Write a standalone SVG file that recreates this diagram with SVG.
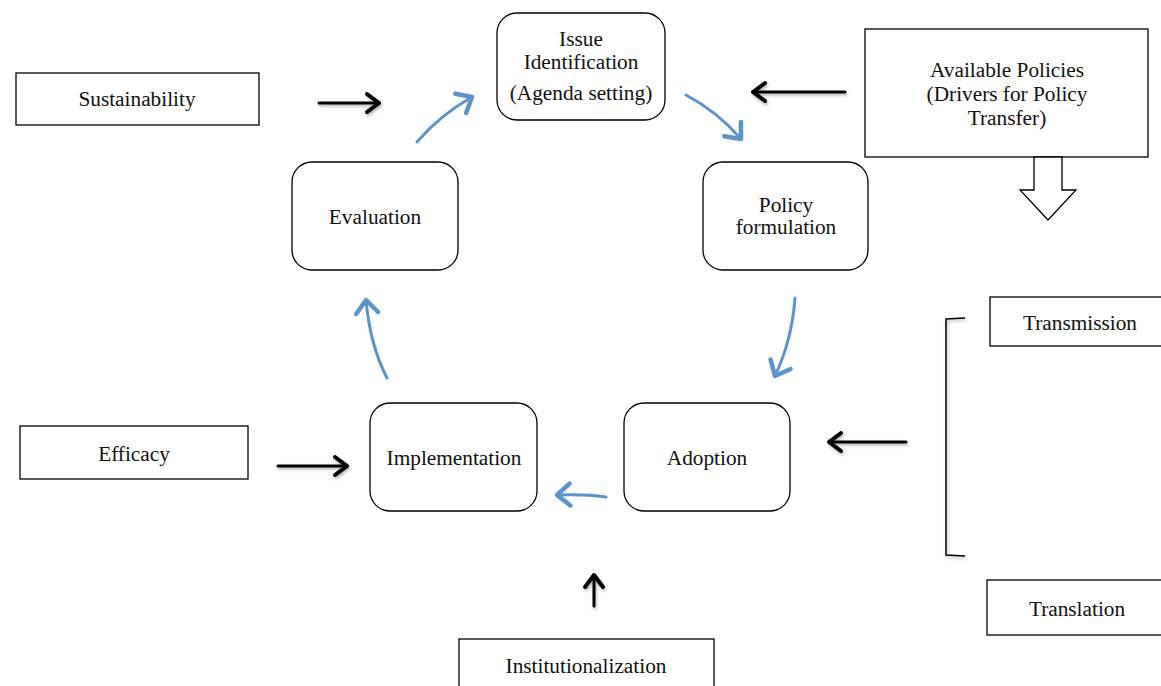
<svg xmlns="http://www.w3.org/2000/svg" width="1161" height="686" viewBox="0 0 1161 686">
  <defs>
    <style>
      .box { fill: #fff; stroke: #000; stroke-width: 1.3; }
      .lbl { font-family: "Liberation Serif", "Times New Roman", serif; font-size: 21.3px; fill: #111; text-anchor: middle; }
      .blue { fill: none; stroke: #5b93cb; stroke-width: 3; stroke-linecap: round; }
      .black { fill: none; stroke: #000; stroke-width: 3; stroke-linecap: round; }
    </style>
    <marker id="headBlue" markerUnits="userSpaceOnUse" markerWidth="30" markerHeight="30" refX="15" refY="15" orient="auto" overflow="visible">
      <path d="M2,4 L15,15 L2,26" fill="none" stroke="#5b93cb" stroke-width="4.5" stroke-linecap="round" stroke-linejoin="round"/>
    </marker>
    <marker id="headBlack" markerUnits="userSpaceOnUse" markerWidth="30" markerHeight="30" refX="15" refY="15" orient="auto" overflow="visible">
      <path d="M3,6 L15,15 L3,24" fill="none" stroke="#000" stroke-width="4" stroke-linecap="round" stroke-linejoin="round"/>
    </marker>
    <filter id="shade" x="-20%" y="-50%" width="140%" height="200%">
      <feDropShadow dx="1" dy="2" stdDeviation="1.5" flood-color="#000" flood-opacity="0.3"/>
    </filter>
  </defs>

  <rect width="1161" height="686" fill="#fff"/>

  <!-- policy cycle stages -->
  <g id="issue-identification">
    <rect class="box" x="497" y="13" width="168" height="107" rx="20"/>
    <text class="lbl" x="581" y="45.5">Issue</text>
    <text class="lbl" x="581" y="68.5">Identification</text>
    <text class="lbl" x="581" y="100">(Agenda setting)</text>
  </g>
  <g id="policy-formulation">
    <rect class="box" x="703" y="162" width="165" height="108" rx="20"/>
    <text class="lbl" x="786" y="212">Policy</text>
    <text class="lbl" x="786" y="234">formulation</text>
  </g>
  <g id="evaluation">
    <rect class="box" x="292" y="162" width="166" height="108" rx="20"/>
    <text class="lbl" x="375" y="224">Evaluation</text>
  </g>
  <g id="implementation">
    <rect class="box" x="370" y="403" width="167" height="108" rx="20"/>
    <text class="lbl" x="454" y="465">Implementation</text>
  </g>
  <g id="adoption">
    <rect class="box" x="624" y="403" width="166" height="108" rx="20"/>
    <text class="lbl" x="707" y="465">Adoption</text>
  </g>

  <!-- external influences -->
  <g id="sustainability">
    <rect class="box" x="16" y="73" width="243" height="52"/>
    <text class="lbl" x="137" y="106">Sustainability</text>
  </g>
  <g id="efficacy">
    <rect class="box" x="20" y="426" width="228" height="53"/>
    <text class="lbl" x="134" y="461">Efficacy</text>
  </g>
  <g id="available-policies">
    <rect class="box" x="865" y="29" width="283" height="128"/>
    <text class="lbl" x="1007" y="77">Available Policies</text>
    <text class="lbl" x="1007" y="101">(Drivers for Policy</text>
    <text class="lbl" x="1007" y="125">Transfer)</text>
  </g>
  <g id="transmission">
    <rect class="box" x="990" y="297" width="185" height="49"/>
    <text class="lbl" x="1080" y="330">Transmission</text>
  </g>
  <g id="translation">
    <rect class="box" x="987" y="580" width="188" height="55"/>
    <text class="lbl" x="1077" y="616">Translation</text>
  </g>
  <g id="institutionalization">
    <rect class="box" x="459" y="639" width="255" height="60"/>
    <text class="lbl" x="586" y="673">Institutionalization</text>
  </g>

  <!-- connectors -->
  <g id="connectors">
    <!-- cycle flow -->
    <path class="blue" d="M417,142 Q440,115 472,97" marker-end="url(#headBlue)"/>
    <path class="blue" d="M686,95 Q718,112 741,139" marker-end="url(#headBlue)"/>
    <path class="blue" d="M795,298 Q792,340 775,376" marker-end="url(#headBlue)"/>
    <path class="blue" d="M606,497 Q585,494 557,495" marker-end="url(#headBlue)"/>
    <path class="blue" d="M387,378 Q370,345 366,300" marker-end="url(#headBlue)"/>

    <!-- influences -->
    <g filter="url(#shade)">
      <path class="black" d="M319,103 L379,103" marker-end="url(#headBlack)"/>
      <path class="black" d="M845,92 L753,92" marker-end="url(#headBlack)"/>
      <path class="black" d="M906,442 L829,442" marker-end="url(#headBlack)"/>
      <path class="black" d="M278,466 L347,466" marker-end="url(#headBlack)"/>
      <path class="black" d="M594,606 L594,575" marker-end="url(#headBlack)"/>
      <!-- bracket grouping transmission and translation -->
      <path d="M965,318 L946,319 L946,555 L965,556" fill="none" stroke="#000" stroke-width="1.5"/>
    </g>

    <!-- hollow block arrow from available policies -->
    <path d="M1034,157 L1062,157 L1062,190 L1076,190 L1048,220 L1020,190 L1034,190 Z" fill="#fff" stroke="#000" stroke-width="1.3"/>
  </g>
</svg>
